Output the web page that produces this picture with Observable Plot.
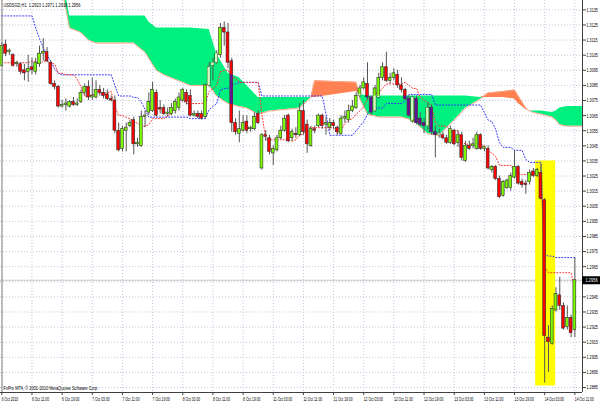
<!DOCTYPE html>
<html><head><meta charset="utf-8">
<script src="https://cdn.jsdelivr.net/npm/d3@7"></script>
<script src="https://cdn.jsdelivr.net/npm/@observablehq/plot@0.6"></script>
<style>
html,body{margin:0;padding:0;background:#fff;}
#chart{width:600px;height:404px;overflow:hidden;}
</style></head><body><div id="chart"></div>
<script>
// ---- data (prices in 1/10000) ----
const title = "USDSGD,H1  1.2923 1.2971 1.2918 1.2956";
const footer = "FxPro MT4, \u00A9 2001-2010 MetaQuotes Software Corp.";
const tickIdx = [0,8,16,24,32,40,48,56,64,72,80,88,96,104,112,120,128,136,144,152];
const tickLabels = ["6 Oct 2010","6 Oct 11:00","6 Oct 19:00","7 Oct 03:00","7 Oct 11:00","7 Oct 19:00","8 Oct 03:00","8 Oct 11:00","8 Oct 19:00","11 Oct 03:00","11 Oct 11:00","11 Oct 19:00","12 Oct 03:00","12 Oct 11:00","12 Oct 19:00","13 Oct 03:00","13 Oct 11:00","13 Oct 19:00","14 Oct 03:00","14 Oct 11:00"];
const yTicks = [1.3135,1.3125,1.3115,1.3105,1.3095,1.3085,1.3075,1.3065,1.3055,1.3045,1.3035,1.3025,1.3015,1.3005,1.2995,1.2985,1.2975,1.2965,1.2955,1.2945,1.2935,1.2925,1.2915,1.2905,1.2895,1.2885];

const openPips = [13098,13112,13107,13105,13099,13099,13095,13094,13097,13094,
13099,13106,13107,13100,13086,13084,13071,13072,13071,13074,
13072,13074,13080,13084,13077,13077,13082,13080,13079,13076,
13075,13055,13043,13055,13058,13062,13046,13045,13064,13067,
13068,13080,13070,13070,13066,13066,13068,13070,13075,13080,
13078,13065,13066,13066,13064,13085,13098,13100,13105,13123,
13120,13101,13060,13053,13055,13061,13056,13056,13066,13030,
13052,13050,13040,13042,13050,13055,13065,13050,13053,13052,
13068,13059,13045,13056,13058,13065,13059,13057,13060,13057,
13053,13063,13062,13068,13070,13078,13083,13086,13077,13068,
13077,13090,13097,13088,13090,13092,13085,13082,13076,13061,
13076,13063,13060,13058,13070,13054,13052,13052,13050,13047,
13055,13047,13052,13035,13045,13045,13043,13052,13043,13043,
13029,13031,13023,13012,13017,13017,13024,13031,13021,13020,
13021,13028,13025,13027,13009,12918,12914,12936,12946,12939,
12925,12931,12923];
const highPips = [13113,13115,13109,13106,13101,13100,13099,13105,13103,13103,
13111,13116,13110,13101,13088,13085,13075,13076,13075,13077,
13076,13082,13086,13088,13090,13088,13085,13083,13082,13078,
13078,13060,13058,13060,13062,13064,13050,13068,13068,13080,
13087,13082,13075,13072,13070,13073,13076,13080,13083,13082,
13082,13068,13068,13068,13086,13100,13103,13108,13126,13127,
13126,13103,13063,13068,13065,13065,13058,13067,13068,13053,
13055,13052,13045,13052,13058,13065,13066,13056,13057,13073,
13075,13062,13058,13058,13066,13066,13064,13063,13062,13058,
13065,13068,13072,13075,13080,13085,13090,13100,13078,13085,
13093,13100,13107,13093,13096,13095,13090,13083,13078,13078,
13078,13067,13063,13073,13072,13058,13056,13054,13052,13058,
13056,13055,13054,13048,13048,13050,13054,13053,13045,13045,
13032,13032,13025,13022,13023,13027,13042,13032,13023,13022,
13029,13030,13030,13033,13010,12926,12939,12951,12958,12941,
12939,12933,12971];
const lowPips = [13097,13104,13105,13097,13097,13092,13088,13087,13092,13092,
13097,13101,13100,13085,13082,13070,13070,13068,13070,13071,
13071,13073,13078,13075,13075,13076,13078,13076,13075,13074,
13053,13041,13041,13041,13057,13039,13044,13044,13057,13065,
13067,13064,13066,13065,13064,13065,13066,13068,13074,13072,
13064,13064,13063,13062,13063,13084,13088,13099,13103,13111,
13096,13054,13052,13047,13054,13053,13054,13055,13059,13029,
13048,13039,13032,13041,13049,13054,13047,13048,13050,13051,
13052,13040,13044,13053,13057,13056,13052,13055,13056,13052,
13052,13060,13060,13067,13069,13077,13082,13075,13065,13067,
13076,13088,13087,13086,13088,13083,13080,13075,13064,13060,
13059,13058,13053,13055,13052,13037,13050,13049,13046,13046,
13045,13044,13035,13034,13042,13043,13042,13042,13041,13029,
13027,13022,13010,13011,13016,13015,13023,13019,13017,13013,
13019,13024,13024,13009,12888,12895,12913,12935,12936,12923,
12923,12918,12918];
const closePips = [13111,13106,13108,13098,13100,13094,13093,13096,13095,13100,
13106,13107,13101,13086,13084,13071,13072,13073,13074,13072,
13073,13080,13084,13077,13078,13082,13080,13078,13076,13075,
13055,13042,13056,13057,13060,13046,13047,13064,13065,13074,
13082,13065,13069,13066,13067,13070,13074,13077,13082,13074,
13065,13066,13064,13063,13085,13097,13100,13106,13123,13120,
13100,13060,13054,13056,13060,13055,13057,13064,13060,13052,
13051,13041,13043,13050,13055,13063,13048,13054,13052,13068,
13054,13046,13056,13055,13065,13058,13060,13060,13058,13054,
13063,13064,13068,13071,13078,13083,13087,13077,13067,13083,
13090,13097,13088,13090,13093,13085,13082,13076,13065,13077,
13060,13059,13058,13070,13054,13052,13053,13050,13047,13056,
13046,13052,13037,13045,13043,13046,13052,13043,13044,13030,
13031,13023,13011,13021,13022,13025,13031,13020,13019,13019,
13027,13025,13029,13010,12919,12915,12937,12947,12939,12924,
12931,12921,12956];
const tenkanPips = [13100,13100,13100,13100,13100,13100,13100,13100,13101,13101,
13099,13101,13101,13100,13099,13093,13093,13092,13092,13092,
13089,13084,13078,13078,13079,13079,13080,13080,13080,13081,
13071,13065,13065,13064,13063,13061,13060,13058,13058,13059,
13063,13063,13063,13063,13065,13066,13072,13075,13075,13073,
13073,13073,13073,13073,13074,13081,13083,13085,13094,13095,
13095,13090,13090,13087,13087,13087,13087,13087,13087,13066,
13049,13049,13049,13049,13049,13049,13049,13048,13049,13052,
13053,13057,13057,13057,13057,13057,13057,13057,13057,13053,
13055,13060,13062,13063,13066,13068,13071,13076,13076,13080,
13080,13083,13086,13086,13086,13086,13086,13087,13085,13083,
13083,13077,13075,13074,13071,13060,13058,13058,13058,13055,
13055,13055,13048,13046,13046,13046,13046,13046,13045,13042,
13040,13038,13032,13032,13032,13032,13028,13027,13026,13026,
13026,13026,13028,13025,12965,12961,12961,12961,12961,12961,
12961,12961,12949];
const kijunPips = [13131,13131,13131,13131,13131,13131,13131,13131,13131,13123,
13116,13110,13105,13101,13096,13093,13092,13092,13092,13092,
13092,13092,13092,13092,13092,13092,13092,13092,13092,13092,
13085,13078,13078,13078,13078,13077,13077,13074,13069,13064,
13064,13064,13064,13064,13064,13064,13064,13064,13064,13064,
13063,13063,13063,13063,13063,13069,13071,13073,13082,13083,
13083,13085,13086,13087,13087,13087,13087,13087,13087,13078,
13078,13078,13078,13078,13078,13078,13078,13078,13078,13078,
13078,13078,13078,13078,13078,13078,13066,13052,13052,13052,
13052,13052,13052,13052,13055,13058,13061,13066,13070,13070,
13070,13070,13073,13073,13073,13073,13073,13075,13079,13079,
13079,13079,13079,13079,13079,13072,13072,13072,13072,13072,
13072,13072,13072,13072,13072,13072,13072,13072,13067,13062,
13061,13056,13047,13044,13044,13044,13042,13042,13042,13036,
13034,13034,13034,13034,12973,12972,12972,12971,12971,12971,
12971,12971,12971];
const cloudIdx = [16,17,18,21,23,25,35,38,39,41,43,47,50,55,57,60,63,65,68,71,79,82,83,94,95,97,100,106,109,113,116,118,120,123,127,128,129,133,136,137,139,140,141,143,146,147,148,150,154];
const spanAPips = [13158,13145,13131,13131,13131,13131,13131,13131,13127,13123,13123,13123,13123,13122,13106,13093,13090,13085,13077,13077,13077,13077,13077,13081,13079,13078,13078,13078,13078,13078,13078,13078,13078,13078,13077,13077,13077,13077,13076,13073,13069,13068,13068,13068,13067,13068,13070,13071,13071];
const spanBPips = [13148,13136,13123,13120,13115,13113,13113,13107,13103,13095,13092,13088,13085,13085,13078,13073,13071,13070,13066,13068,13070,13077,13088,13087,13076,13066,13064,13064,13062,13053,13052,13057,13062,13070,13076,13078,13080,13081,13082,13078,13070,13068,13067,13066,13064,13062,13059,13058,13058];
const highlightIdx = [141.6, 146.9];
const highlightPips = [12886, 13035];

// ---- build ----
const P = v => v / 10000;
const n = closePips.length;
const bars = d3.range(n).map(i => ({i, o: P(openPips[i]), h: P(highPips[i]), l: P(lowPips[i]), c: P(closePips[i]), t: P(tenkanPips[i]), k: P(kijunPips[i])}));
const cloud = cloudIdx.map((i, j) => ({i, a: P(spanAPips[j]), b: P(spanBPips[j])}));
// where a candle body lies inside the green cloud, MT4 shows it in altered colours
const sa = d3.scaleLinear().domain(cloudIdx).range(spanAPips.map(P));
const sb = d3.scaleLinear().domain(cloudIdx).range(spanBPips.map(P));
const inCloud = [];
for (const d of bars) {
  if (d.i < cloudIdx[0]) continue;
  const a = sa(d.i), b = sb(d.i);
  if (a <= b) continue;
  const top = Math.min(Math.max(d.o, d.c), a), bot = Math.max(Math.min(d.o, d.c), b);
  if (top > bot) inCloud.push({i: d.i, y1: bot, y2: top, up: d.c >= d.o});
}
const xDomain = [-0.345, 154.03];
const yDomain = [1.28817, 1.31412];
const last = bars[n - 1].c;
const labelOf = new Map(tickIdx.map((v, j) => [v, tickLabels[j]]));
const font = "'Liberation Sans', Arial, sans-serif";

const svg = Plot.plot({
  width: 600, height: 404,
  marginLeft: 0, marginRight: 18, marginTop: 0, marginBottom: 12,
  x: {domain: xDomain, axis: null, label: null},
  y: {domain: yDomain, axis: null, label: null},
  style: {background: "white", fontFamily: font, fontSize: "6px", color: "black"},
  marks: [
    Plot.gridX(tickIdx, {stroke: "#c4c4dc", strokeOpacity: 1, strokeDasharray: "1,2"}),
    Plot.gridY(yTicks, {stroke: "#c4c4dc", strokeOpacity: 1, strokeDasharray: "1,2"}),
    Plot.ruleY([last], {stroke: "#c8c8c8"}),
    Plot.rect([0], {x1: highlightIdx[0], x2: highlightIdx[1], y1: P(highlightPips[0]), y2: P(highlightPips[1]), fill: "#ffff00"}),
    Plot.areaY(cloud, {x: "i", y1: "b", y2: d => Math.max(d.a, d.b), fill: "#00f080", clip: true}),
    Plot.areaY(cloud, {x: "i", y1: "a", y2: d => Math.max(d.a, d.b), fill: "#ff8050", clip: true}),
    Plot.line(cloud, {x: "i", y: "b", stroke: "#f8a888", strokeWidth: 1, clip: true}),
    Plot.line(bars, {x: "i", y: "k", stroke: "#3030ff", strokeWidth: 1, strokeDasharray: "1,2"}),
    Plot.line(bars, {x: "i", y: "t", stroke: "#ff3030", strokeWidth: 1, strokeDasharray: "1,2"}),
    Plot.ruleX(bars, {x: "i", y1: "l", y2: "h", stroke: "#555555", strokeWidth: 1}),
    Plot.rect(bars, {x1: d => d.i - 0.38, x2: d => d.i + 0.38, y1: "o", y2: "c",
      fill: d => d.c >= d.o ? "#7cfc00" : "#ff0000", stroke: "#303030", strokeWidth: 0.6}),
    Plot.rect(inCloud, {x1: d => d.i - 0.3, x2: d => d.i + 0.3, y1: "y1", y2: "y2",
      fill: d => d.up ? "#d8f8d0" : "#5a14a0"}),
    Plot.ruleX([xDomain[0]], {stroke: "#808080", dx: 1.5}),
    Plot.ruleX([xDomain[1]], {stroke: "#404040"}),
    Plot.ruleY([yDomain[0]], {stroke: "#404040"}),
    Plot.axisY(yTicks, {anchor: "right", label: null, tickFormat: d3.format(".4f"), tickSize: 3, tickPadding: 1, fontSize: 6, stroke: "#404040"}),
    Plot.axisX(tickIdx, {anchor: "bottom", label: null, tickFormat: d => labelOf.get(d), textAnchor: "start", tickSize: 3, tickPadding: 1, fontSize: 6, stroke: "#404040"}),
    Plot.ruleY([last], {x1: xDomain[1], x2: xDomain[1] + 4.8, stroke: "black", strokeWidth: 8}),
    Plot.text([last], {x: xDomain[1], y: d => d, text: d => d3.format(".4f")(d), textAnchor: "start", dx: 3, fill: "white", fontSize: 6}),
    Plot.text([title], {frameAnchor: "top-left", dx: 3, dy: 2, lineAnchor: "top", fontSize: 6, fill: "black"}),
    Plot.text([footer], {frameAnchor: "bottom-left", dx: 3, dy: -3, lineAnchor: "bottom", fontSize: 6, fill: "black"})
  ]
});
function squeeze(sel, k) {
  svg.querySelectorAll(sel).forEach(t => {
    const tr = t.getAttribute("transform") || "";
    t.setAttribute("transform", tr + ` scale(${k},1)`);
    t.dataset.sq = "1";
  });
}
squeeze('g[aria-label="x-axis tick label"] text', 0.56);
squeeze('g[aria-label="y-axis tick label"] text', 0.62);
svg.querySelectorAll("text").forEach(t => { if (!t.dataset.sq) { const tr = t.getAttribute("transform") || ""; t.setAttribute("transform", tr + " scale(0.66,1)"); } });
document.getElementById("chart").appendChild(svg);
</script></body></html>
